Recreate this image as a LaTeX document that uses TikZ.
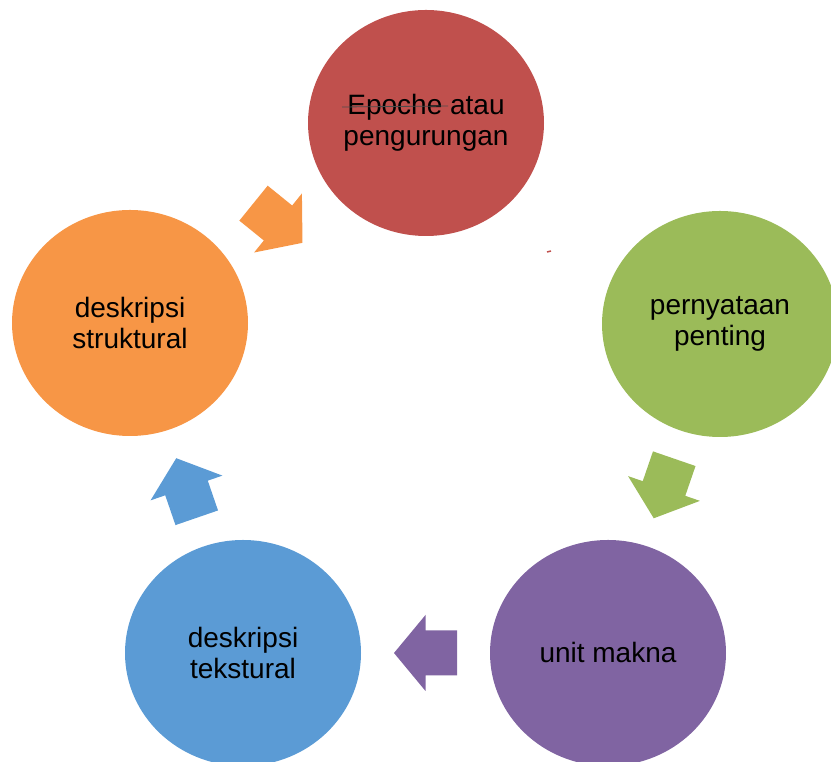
\documentclass[tikz,border=0pt]{standalone}
\usepackage{fontspec}
\setmainfont{Liberation Sans}
\usetikzlibrary{calc,shapes.geometric}

\definecolor{redA}{HTML}{C0504D}
\definecolor{greenA}{HTML}{9BBB59}
\definecolor{purpleA}{HTML}{8064A2}
\definecolor{blueA}{HTML}{5B9BD5}
\definecolor{orangeA}{HTML}{F79646}

\tikzset{
  stage/.style={ellipse, fill=#1, minimum width=236pt, minimum height=226pt,
    inner sep=0pt, align=center, font=\fontsize{28}{31}\selectfont},
}

\begin{document}
\begin{tikzpicture}[x=1pt, y=1pt]
		\useasboundingbox (0,0) rectangle (831,762);
		\clip (0,0) rectangle (831,762);
		% the five steps of the cycle
		\node[stage=redA] (epoche) at (426,639) {Epoche atau\\pengurungan};
		\node[stage=greenA] (penting) at (720,438) {pernyataan\\penting};
		\node[stage=purpleA] (makna) at (608,109) {unit makna};
		\node[stage=blueA] (tekstural) at (243,109) {deskripsi\\tekstural};
		\node[stage=orangeA] (struktural) at (130,439) {deskripsi\\struktural};
		% stray stroke and speck
		\draw[black!70, line width=0.8pt] ($(epoche)+(-84,16)$) -- ($(epoche)+(22,17)$);
		\draw[redA, line width=1.5pt] (547,510) -- (551,511);
		% block arrows halfway between the steps
		\foreach \a/\b/\ang/\col in {struktural/epoche/-39/orangeA, penting/makna/-109/greenA,
			makna/tekstural/180/purpleA, tekstural/struktural/109/blueA}
		\fill[\col, shift={($(\a)!.5!(\b)$)}, rotate=\ang]
			(-31.5,22.5) -- (0,22.5) -- (0,38) -- (31.5,0) -- (0,-38) -- (0,-22.5) -- (-31.5,-22.5) -- cycle;
	\end{tikzpicture}
\end{document}
